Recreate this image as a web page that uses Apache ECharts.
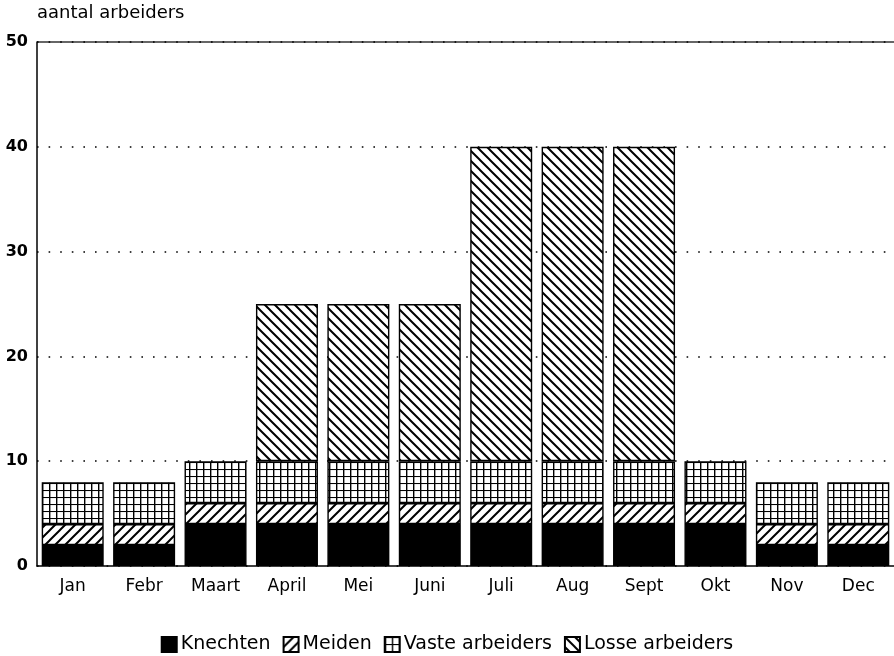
<!DOCTYPE html>
<html><head><meta charset="utf-8">
<script src="https://cdn.jsdelivr.net/npm/echarts@6/dist/echarts.min.js"></script>
<style>html,body{margin:0;padding:0;background:#fff}#c{width:894px;height:656px}</style>
</head><body><div id="c"></div>
<script>
const categories = ['Jan','Febr','Maart','April','Mei','Juni','Juli','Aug','Sept','Okt','Nov','Dec'];
const knechten = [2,2,4,4,4,4,4,4,4,4,2,2];
const meiden = [2,2,2,2,2,2,2,2,2,2,2,2];
const vaste = [4,4,4,4,4,4,4,4,4,4,4,4];
const losse = [0,0,0,15,15,15,30,30,30,0,0,0];
const seriesNames = ['Knechten','Meiden','Vaste arbeiders','Losse arbeiders'];
const yTicks = [0,10,20,30,40,50];

function makePattern(type){
  const c = document.createElement('canvas');
  let s = type==='grid'?7:10;
  c.width = s; c.height = s;
  const g = c.getContext('2d');
  g.fillStyle = '#fff'; g.fillRect(0,0,s,s);
  g.strokeStyle = '#000'; g.lineWidth = 2;
  if(type==='fwd'){
    g.beginPath();
    g.moveTo(-1,s+1); g.lineTo(s+1,-1);
    g.moveTo(-1-s,s+1); g.lineTo(1,-1);
    g.moveTo(s-1,s+1); g.lineTo(2*s+1,-1);
    g.stroke();
  } else if(type==='back'){
    g.beginPath();
    g.moveTo(-1,-1); g.lineTo(s+1,s+1);
    g.moveTo(-1-s,-1); g.lineTo(1,s+1);
    g.moveTo(s-1,-1); g.lineTo(2*s+1,s+1);
    g.stroke();
  } else if(type==='grid'){
    g.lineWidth = 1.4;
    g.beginPath();
    g.moveTo(0.7,0); g.lineTo(0.7,s);
    g.stroke();
    g.lineWidth = 1.1;
    g.beginPath();
    g.moveTo(0,0.5); g.lineTo(s,0.5);
    g.stroke();
  }
  return {image:c, repeat:'repeat'};
}
const fills = ['#000', makePattern('fwd'), makePattern('grid'), makePattern('back')];
const dataArr = [knechten, meiden, vaste, losse];

const chart = echarts.init(document.getElementById('c'), null, {renderer:'canvas'});
const font = '"DejaVu Sans", Arial, sans-serif';
chart.setOption({
  animation:false,
  backgroundColor:'#fff',
  grid:{left:37, right:0, top:42, bottom:90, containLabel:false},
  legend:{
    top:630, left:'center', itemWidth:15, itemHeight:15, itemGap:12, padding:[5,5,0,5],
    icon:'rect',
    textStyle:{fontFamily:font, fontSize:19, color:'#000', padding:[0,0,0,-1]},
    data:seriesNames
  },
  graphic:[{type:'text', left:37, top:4, style:{text:'aantal arbeiders', font:'18px '+font, fill:'#000'}},
           {type:'line', shape:{x1:37,y1:42,x2:894,y2:42}, style:{stroke:'#333', lineWidth:1.5}}],
  xAxis:{
    type:'category', data:categories,
    axisLine:{lineStyle:{color:'#000', width:1.5}},
    axisTick:{show:false},
    axisLabel:{fontFamily:font, fontSize:17, color:'#000', margin:12}
  },
  yAxis:{
    type:'value', min:yTicks[0], max:yTicks[yTicks.length-1], interval:10,
    axisLine:{show:true, lineStyle:{color:'#000', width:1.5}},
    axisTick:{show:false},
    axisLabel:{fontFamily:font, fontSize:16, fontWeight:'bold', color:'#000', margin:9},
    splitLine:{show:true, lineStyle:{color:'#000', type:[1.6,10], width:1.6}}
  },
  series: seriesNames.map((n,i)=>({
    name:n, type:'bar', stack:'a', barWidth:62,
    data:dataArr[i].map(v=>v===0?null:v),
    itemStyle:{color:fills[i], borderColor:'#000', borderWidth:1.4}
  }))
});
</script></body></html>
